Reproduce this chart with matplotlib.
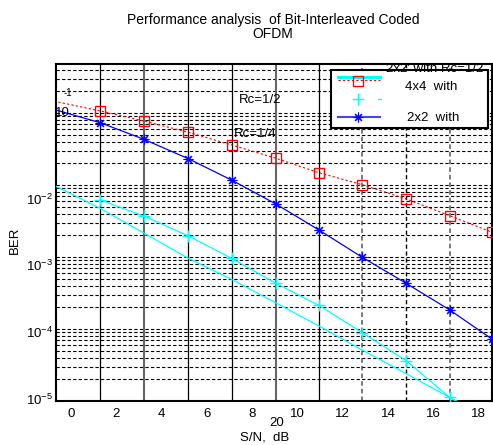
import numpy as np
import matplotlib
matplotlib.use('Agg')
import matplotlib.pyplot as plt
from matplotlib.lines import Line2D
from matplotlib.patches import Rectangle

plt.rcParams['font.family'] = ['Liberation Sans', 'DejaVu Sans']
plt.rcParams['mathtext.fontset'] = 'custom'
plt.rcParams['mathtext.rm'] = 'Liberation Sans'
plt.rcParams['mathtext.default'] = 'rm'

# S/N points (dB) and BER curves
snr = [-0.75, 1.29, 3.22, 5.18, 7.09, 9.05, 10.95, 12.86, 14.80, 16.72, 18.60]
ber_4x4 = [0.146, 0.107, 0.0774, 0.054, 0.036, 0.0235, 0.0148, 0.0101, 0.0064, 0.00375, 0.0022]
ber_2x2 = [0.112, 0.0733, 0.0431, 0.0232, 0.0117, 0.00544, 0.00237, 0.00099, 0.000431, 0.000184, 7.2e-5]
ber_2x2p = [0.0099, 0.00474, 0.00215, 0.00096, 0.00049, 0.00023, 0.00011, 5.1e-5, 2.4e-5, 1.12e-5, 5.4e-6]
ber_plus = [0.0062, 0.0037, 0.00196, 0.00096, 0.000431, 0.000212, 8.9e-5, 3.63e-5, 1.12e-5, 5.4e-6]
xticks = [0, 2, 4, 6, 8, 10, 12, 14, 16, 18]
decades = [-5, -4, -3, -2]

fig = plt.figure(figsize=(4.93, 4.45), dpi=100)
ax = fig.add_axes([0.1136, 0.0989, 0.8844, 0.7584])
ax.set_yscale('log')
ax.set_xlim(-0.662, 18.59)
ax.set_ylim(1e-5, 0.487)

# horizontal log grid
ax.yaxis.grid(True, which='both', linestyle=(0, (3, 2)), color='black', linewidth=0.8)
ax.set_axisbelow(True)

# vertical lines sit on the data points
vstyles = [('black', '-', 0.9), ('#666666', '-', 1.5), ('black', '-', 0.9), ('black', '-', 0.9),
           ('#666666', '-', 1.5), ('black', '-', 0.9), ('#555555', (0, (3, 2)), 1.1),
           ('black', (0, (3, 2)), 1.0), ('#555555', (0, (3, 2)), 1.1)]
for xv, (c, ls, lw) in zip(snr[1:-1], vstyles):
    ax.axvline(xv, color=c, linestyle=ls, linewidth=lw, zorder=1)

ax.plot(snr, ber_4x4, color='red', linestyle=(0, (2, 2)), linewidth=0.8,
        marker='s', markersize=6.5, markerfacecolor='none', markeredgecolor='red',
        markevery=slice(1, None), zorder=3)
ax.plot(snr, ber_2x2, color='blue', linewidth=0.9, marker=(8, 2, 0), markersize=7,
        markeredgewidth=0.8, markevery=slice(1, None), zorder=3)
ax.plot(snr, ber_2x2p, color='cyan', linewidth=0.9, zorder=3)
ax.plot(snr[1:], ber_plus, color='cyan', linewidth=0.9, marker='+', markersize=8, zorder=3)

ax.set_xticks(xticks)
ax.tick_params(axis='x', length=0, pad=5, labelsize=9.5)
ax.tick_params(axis='y', which='both', length=0, labelleft=False)
for s in ax.spines.values():
    s.set_linewidth(1.5)

# y tick labels, drawn as in the original
for k, off in zip(decades, [-0.5, 3, 7, 10.8]):
    ax.annotate('$10^{%d}$' % k, xy=(0, 10.0 ** k), xycoords=('axes fraction', 'data'),
                xytext=(-2, -off), textcoords='offset points', ha='right', va='center',
                fontsize=9.5)
ax.annotate('10', xy=(0, 0.1), xycoords=('axes fraction', 'data'), xytext=(4.3, 0),
            textcoords='offset points', ha='center', va='center', fontsize=9.5)
ax.annotate('-1', xy=(0, 0.1), xycoords=('axes fraction', 'data'), xytext=(8.6, 14.4),
            textcoords='offset points', ha='center', va='center', fontsize=7)

ax.text(8.34, 0.152, 'Rc=1/2', ha='center', va='center', fontsize=9.5)
ax.text(8.12, 0.051, 'Rc=1/4', ha='center', va='center', fontsize=9.5)

ax.text(0.507, -0.065, '20', transform=ax.transAxes, ha='center', va='center', fontsize=9.5)
ax.text(0.479, -0.107, 'S/N,  dB', transform=ax.transAxes, ha='center', va='center', fontsize=9.5)
ax.text(-0.094, 0.477, 'BER', transform=ax.transAxes, ha='center', va='center',
        rotation=90, fontsize=9.5)

fig.text(273 / 493, 1 - 27 / 445, 'Performance analysis  of Bit-Interleaved Coded\nOFDM',
         ha='center', va='center', fontsize=10, linespacing=1.05)

# hand-made legend box
def ax_xy(px, py):
    return (px - 56) / 436, (401 - py) / 337.5

x0, y0 = ax_xy(331, 128)
x1, y1 = ax_xy(488, 70)
ax.add_patch(Rectangle((x0, y0), x1 - x0, y1 - y0, transform=ax.transAxes,
                       facecolor='white', edgecolor='black', linewidth=1.5, zorder=5))
hx = [ax_xy(338, 0)[0], ax_xy(380, 0)[0]]
mx = ax_xy(358, 0)[0]
ax.add_line(Line2D(hx, [ax_xy(0, 76.7)[1]] * 2, transform=ax.transAxes, color='cyan',
                   linewidth=2.2, zorder=6))
ax.add_line(Line2D(hx, [ax_xy(0, 80)[1]] * 2, transform=ax.transAxes, color='red',
                   linestyle=(0, (2, 2)), linewidth=0.8, zorder=6))
ax.add_line(Line2D([mx], [ax_xy(0, 81)[1]], transform=ax.transAxes, marker='s',
                   markersize=6.5, markerfacecolor='none', markeredgecolor='red', zorder=6))
ax.add_line(Line2D([mx], [ax_xy(0, 99.3)[1]], transform=ax.transAxes, marker='+',
                   markersize=8, color='cyan', zorder=6))
ax.add_line(Line2D([ax_xy(378, 0)[0], ax_xy(381, 0)[0]], [ax_xy(0, 99.3)[1]] * 2,
                   transform=ax.transAxes, color='cyan', linewidth=1, zorder=6))
ax.add_line(Line2D(hx, [ax_xy(0, 117.3)[1]] * 2, transform=ax.transAxes, color='#4444ff',
                   linewidth=1.5, zorder=6))
ax.add_line(Line2D([mx], [ax_xy(0, 117.3)[1]], transform=ax.transAxes, marker=(8, 2, 0),
                   markersize=7, markeredgewidth=0.8, color='blue', zorder=7))
for txt, px, py in [("2x2' with Rc=1/2", 435, 69), ('4x4  with', 431, 87), ('2x2  with', 433, 118)]:
    tx, ty = ax_xy(px, py)
    ax.text(tx, ty, txt, transform=ax.transAxes, ha='center', va='center', fontsize=9.5, zorder=8)

fig.savefig('out.png', dpi=100)
